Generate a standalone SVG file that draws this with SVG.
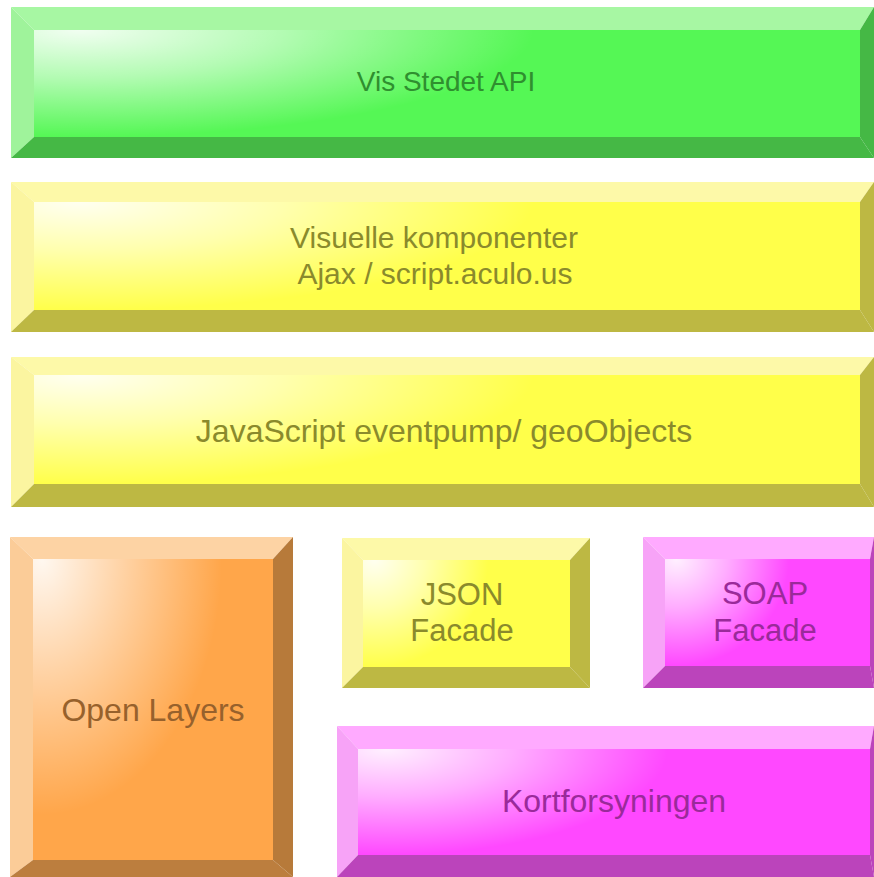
<svg xmlns="http://www.w3.org/2000/svg" width="874" height="877" viewBox="0 0 874 877">
  <defs>
    <radialGradient id="hl" cx="0.1" cy="0" r="1" gradientTransform="scale(0.55 1)">
      <stop offset="0" stop-color="#ffffff" stop-opacity="0.92"/>
      <stop offset="0.45" stop-color="#ffffff" stop-opacity="0.55"/>
      <stop offset="1" stop-color="#ffffff" stop-opacity="0"/>
    </radialGradient>
    <radialGradient id="hlTall" cx="0.05" cy="0" r="1" gradientTransform="scale(0.75 0.85)">
      <stop offset="0" stop-color="#ffffff" stop-opacity="0.92"/>
      <stop offset="0.45" stop-color="#ffffff" stop-opacity="0.5"/>
      <stop offset="1" stop-color="#ffffff" stop-opacity="0"/>
    </radialGradient>
  </defs>
  <style>
    text { font-family: "Liberation Sans", Arial, sans-serif; font-size: 30px; text-anchor: middle; }
    .big { font-size: 32px; }
    .mid { font-size: 31px; }
    .title { font-size: 28px; }
    .g-top { fill: #a7f7a3; } .g-left { fill: #9ff39b; } .g-face { fill: #55f755; } .g-dark { fill: #45b845; } .g-txt { fill: #2f8f2f; }
    .y-top { fill: #fdf9a8; } .y-left { fill: #fbf5a0; } .y-face { fill: #ffff4a; } .y-dark { fill: #bdb843; } .y-txt { fill: #8a8a2c; }
    .o-top { fill: #fdd3a4; } .o-left { fill: #fbcc98; } .o-face { fill: #ffa64a; } .o-dark { fill: #bc7e3e; } .o-dark2 { fill: #b77a3a; } .o-txt { fill: #97612c; }
    .p-top { fill: #ffaaff; } .p-left { fill: #f7a3f7; } .p-face { fill: #ff48ff; } .p-dark { fill: #bb44bb; } .p-txt { fill: #9a2a9a; }
  </style>
  <rect width="874" height="877" fill="#ffffff"/>

  <g id="vis-stedet-api">
    <polygon class="g-top" points="11,7 874,7 860,30 34,30"/>
    <polygon class="g-left" points="11,7 34,30 34,137 11,158"/>
    <polygon class="g-dark" points="11,158 34,137 860,137 874,158"/>
    <polygon class="g-dark" points="874,7 874,158 860,137 860,30"/>
    <rect class="g-face" x="34" y="30" width="826" height="107"/>
    <rect x="34" y="30" width="826" height="107" fill="url(#hl)"/>
    <text class="g-txt title" x="446" y="91">Vis Stedet API</text>
  </g>

  <g id="visuelle-komponenter">
    <polygon class="y-top" points="11,182 874,182 860,202 34,202"/>
    <polygon class="y-left" points="11,182 34,202 34,310 11,332"/>
    <polygon class="y-dark" points="11,332 34,310 860,310 874,332"/>
    <polygon class="y-dark" points="874,182 874,332 860,310 860,202"/>
    <rect class="y-face" x="34" y="202" width="826" height="108"/>
    <rect x="34" y="202" width="826" height="108" fill="url(#hl)"/>
    <text class="y-txt" x="434" y="248">Visuelle komponenter</text>
    <text class="y-txt" x="435" y="284">Ajax / script.aculo.us</text>
  </g>

  <g id="javascript-eventpump">
    <polygon class="y-top" points="11,357 874,357 860,375 34,375"/>
    <polygon class="y-left" points="11,357 34,375 34,484 11,507"/>
    <polygon class="y-dark" points="11,507 34,484 860,484 874,507"/>
    <polygon class="y-dark" points="874,357 874,507 860,484 860,375"/>
    <rect class="y-face" x="34" y="375" width="826" height="109"/>
    <rect x="34" y="375" width="826" height="109" fill="url(#hl)"/>
    <text class="y-txt big" x="444" y="442">JavaScript eventpump/ geoObjects</text>
  </g>

  <g id="open-layers">
    <polygon class="o-top" points="10,537 293,537 273,559 33,559"/>
    <polygon class="o-left" points="10,537 33,559 33,860 10,877"/>
    <polygon class="o-dark" points="10,877 33,860 273,860 293,877"/>
    <polygon class="o-dark2" points="293,537 293,877 273,860 273,559"/>
    <rect class="o-face" x="33" y="559" width="240" height="301"/>
    <rect x="33" y="559" width="240" height="301" fill="url(#hlTall)"/>
    <text class="o-txt big" x="153" y="721">Open Layers</text>
  </g>

  <g id="json-facade">
    <polygon class="y-top" points="342,538 590,538 570,560 363,560"/>
    <polygon class="y-left" points="342,538 363,560 363,667 342,688"/>
    <polygon class="y-dark" points="342,688 363,667 570,667 590,688"/>
    <polygon class="y-dark" points="590,538 590,688 570,667 570,560"/>
    <rect class="y-face" x="363" y="560" width="207" height="107"/>
    <rect x="363" y="560" width="207" height="107" fill="url(#hl)"/>
    <text class="y-txt mid" x="462" y="605">JSON</text>
    <text class="y-txt mid" x="462" y="641">Facade</text>
  </g>

  <g id="soap-facade">
    <polygon class="p-top" points="643,537 874,537 870,559 665,559"/>
    <polygon class="p-left" points="643,537 665,559 665,666 643,688"/>
    <polygon class="p-dark" points="643,688 665,666 870,666 874,688"/>
    <polygon class="p-dark" points="874,537 874,688 870,666 870,559"/>
    <rect class="p-face" x="665" y="559" width="205" height="107"/>
    <rect x="665" y="559" width="205" height="107" fill="url(#hl)"/>
    <text class="p-txt mid" x="765" y="604">SOAP</text>
    <text class="p-txt mid" x="765" y="641">Facade</text>
  </g>

  <g id="kortforsyningen">
    <polygon class="p-top" points="337,726 874,726 870,749 358,749"/>
    <polygon class="p-left" points="337,726 358,749 358,855 337,877"/>
    <polygon class="p-dark" points="337,877 358,855 870,855 874,877"/>
    <polygon class="p-dark" points="874,726 874,877 870,855 870,749"/>
    <rect class="p-face" x="358" y="749" width="512" height="106"/>
    <rect x="358" y="749" width="512" height="106" fill="url(#hl)"/>
    <text class="p-txt big" x="614" y="812">Kortforsyningen</text>
  </g>

  <g id="connectors"/>
</svg>
